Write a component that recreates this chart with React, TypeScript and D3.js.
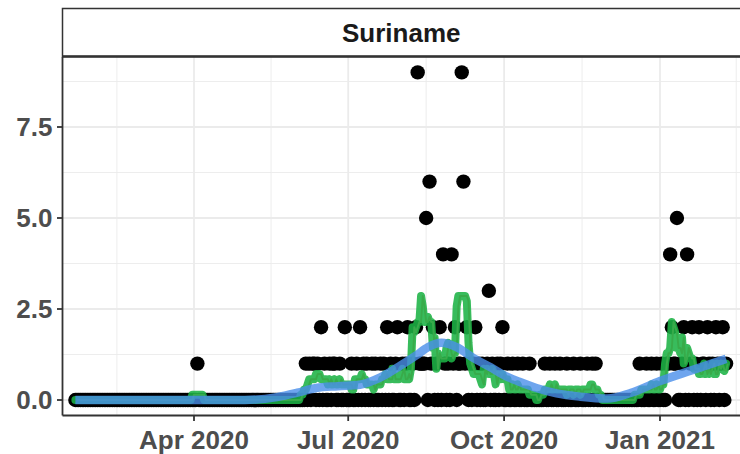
import React from 'react';
import * as d3 from 'd3';

// ---- data (daily new cases, Suriname) ----
const START_DATE = '2020-01-22';
const cases_2020_01 = [0, 0, 0, 0, 0, 0, 0, 0, 0, 0];
const cases_2020_02 = [0, 0, 0, 0, 0, 0, 0, 0, 0, 0, 0, 0, 0, 0, 0, 0, 0, 0, 0, 0, 0, 0, 0, 0, 0, 0, 0, 0, 0];
const cases_2020_03 = [0, 0, 0, 0, 0, 0, 0, 0, 0, 0, 0, 0, 0, 0, 0, 0, 0, 0, 0, 0, 0, 0, 0, 0, 0, 0, 0, 0, 0, 0, 0];
const cases_2020_04 = [0, 0, 1, 0, 0, 0, 0, 0, 0, 0, 0, 0, 0, 0, 0, 0, 0, 0, 0, 0, 0, 0, 0, 0, 0, 0, 0, 0, 0, 0];
const cases_2020_05 = [0, 0, 0, 0, 0, 0, 0, 0, 0, 0, 0, 0, 0, 0, 0, 0, 0, 0, 0, 0, 0, 0, 0, 0, 0, 0, 0, 0, 0, 0, 0];
const cases_2020_06 = [0, 0, 0, 0, 0, 1, 0, 1, 0, 1, 1, 0, 1, 0, 2, 0, 1, 0, 0, 1, 0, 1, 1, 0, 0, 1, 0, 0, 2, 0];
const cases_2020_07 = [0, 0, 1, 0, 0, 1, 0, 2, 0, 1, 0, 1, 0, 0, 1, 0, 1, 0, 0, 1, 0, 1, 0, 2, 0, 1, 0, 0, 1, 2, 0];
const cases_2020_08 = [0, 1, 0, 1, 2, 0, 0, 1, 0, 2, 9, 1, 1, 1, 1, 5, 0, 6, 1, 2, 0, 1, 0, 2, 0, 4, 1, 0, 1, 0, 4];
const cases_2020_09 = [1, 2, 0, 1, 1, 9, 6, 1, 2, 0, 1, 0, 1, 2, 0, 1, 0, 1, 0, 0, 1, 3, 0, 1, 0, 0, 1, 0, 1, 2];
const cases_2020_10 = [0, 0, 1, 0, 0, 1, 0, 0, 1, 0, 0, 1, 0, 0, 0, 1, 0, 0, 0, 0, 0, 0, 0, 0, 1, 0, 0, 1, 0, 0, 1];
const cases_2020_11 = [0, 0, 1, 0, 0, 0, 1, 0, 0, 0, 1, 0, 0, 0, 1, 0, 0, 0, 1, 0, 0, 1, 0, 1, 0, 0, 0, 0, 0, 0];
const cases_2020_12 = [0, 0, 0, 0, 0, 0, 0, 0, 0, 0, 0, 0, 0, 0, 0, 0, 0, 0, 0, 1, 0, 0, 0, 1, 0, 0, 1, 0, 0, 1, 0];
const cases_2021_01 = [0, 1, 0, 0, 1, 1, 4, 2, 1, 1, 5, 0, 0, 1, 2, 0, 4, 0, 1, 2, 0, 1, 0, 2, 0, 1, 1, 0, 2, 1, 0];
const cases_2021_02 = [1, 0, 2, 1, 0, 1, 2, 0, 1];

// smoothed trend
const smoothDates = ['2020-01-22', '2020-04-01', '2020-05-01', '2020-05-20', '2020-06-01', '2020-06-12', '2020-06-25', '2020-07-08', '2020-07-20', '2020-08-01', '2020-08-10', '2020-08-17', '2020-08-25', '2020-09-03', '2020-09-13', '2020-09-23', '2020-10-01', '2020-10-10', '2020-10-20', '2020-11-01', '2020-11-15', '2020-12-01', '2020-12-15', '2021-01-01', '2021-01-20', '2021-02-09'];
const smoothValues = [0, 0, 0.0, 0.08, 0.2, 0.33, 0.38, 0.42, 0.62, 0.95, 1.22, 1.45, 1.57, 1.45, 1.15, 0.9, 0.68, 0.5, 0.33, 0.18, 0.09, 0.04, 0.2, 0.52, 0.82, 1.13];

const stripTitle = 'Suriname';
const xTickDates = ['2020-04-01', '2020-07-01', '2020-10-01', '2021-01-01'];
const xTickLabels = ['Apr 2020', 'Jul 2020', 'Oct 2020', 'Jan 2021'];
const xBreakDatesExtended = ['2020-01-01', '2020-04-01', '2020-07-01', '2020-10-01', '2021-01-01', '2021-04-01'];
const yTicks = [0, 2.5, 5, 7.5];
const yTickLabels = ['0.0', '2.5', '5.0', '7.5'];

const W = 740;
const H = 454;
const panel = { left: 62.5, right: 742, top: 57, bottom: 415.5 };
const FONT = "'Liberation Sans', Arial, Helvetica, sans-serif";
const FS = 26;

export default function App() {
  const parse = d3.utcParse('%Y-%m-%d');
  const allCases = [
    ...cases_2020_01, ...cases_2020_02, ...cases_2020_03, ...cases_2020_04,
    ...cases_2020_05, ...cases_2020_06, ...cases_2020_07, ...cases_2020_08,
    ...cases_2020_09, ...cases_2020_10, ...cases_2020_11, ...cases_2020_12,
    ...cases_2021_01, ...cases_2021_02,
  ];
  const start = parse(START_DATE) as Date;
  const data = allCases.map((v, i) => ({ date: d3.utcDay.offset(start, i), value: v }));

  // centered 7-day rolling mean (partial windows at the ends)
  const roll = data.map((d, i) => {
    const lo = Math.max(0, i - 3);
    const hi = Math.min(data.length - 1, i + 3);
    const m = d3.mean(data.slice(lo, hi + 1), (e) => e.value) as number;
    return { date: d.date, value: m };
  });
  const rollShift = roll.map((d) => ({ date: d3.utcDay.offset(d.date, 1), value: d.value }));

  const smooth = smoothDates.map((s, i) => ({ date: parse(s) as Date, value: smoothValues[i] }));

  const x = d3.scaleUtc()
    .domain([parse('2020-04-01') as Date, parse('2021-01-01') as Date])
    .range([194, 660]);
  const y = d3.scaleLinear().domain([0, 7.5]).range([400, 127]);

  const majorX = xTickDates.map((s) => x(parse(s) as Date));
  const extX = xBreakDatesExtended.map((s) => x(parse(s) as Date));
  const minorX = extX.slice(1).map((v, i) => (v + extX[i]) / 2).filter((v) => v > panel.left && v < panel.right);
  const minorY = [1.25, 3.75, 6.25, 8.75];

  const line = d3.line<{ date: Date; value: number }>()
    .x((d) => x(d.date))
    .y((d) => y(d.value));
  const smoothLine = d3.line<{ date: Date; value: number }>()
    .x((d) => x(d.date))
    .y((d) => y(d.value))
    .curve(d3.curveMonotoneX);

  return (
    <svg width={W} height={H} style={{ position: 'absolute', left: 0, top: 0, background: '#fff' }}>
      <defs>
        <clipPath id="panelClip">
          <rect x={panel.left} y={panel.top} width={panel.right - panel.left} height={panel.bottom - panel.top} />
        </clipPath>
      </defs>
      <rect x={0} y={0} width={W} height={H} fill="#fff" />
      {/* grid */}
      <g clipPath="url(#panelClip)">
        {minorY.map((v) => (
          <line key={'my' + v} x1={panel.left} x2={panel.right} y1={y(v)} y2={y(v)} stroke="#EBEBEB" strokeWidth={0.9} />
        ))}
        {minorX.map((v, i) => (
          <line key={'mx' + i} x1={v} x2={v} y1={panel.top} y2={panel.bottom} stroke="#EBEBEB" strokeWidth={0.9} />
        ))}
        {yTicks.map((v) => (
          <line key={'gy' + v} x1={panel.left} x2={panel.right} y1={y(v)} y2={y(v)} stroke="#EBEBEB" strokeWidth={1.8} />
        ))}
        {majorX.map((v, i) => (
          <line key={'gx' + i} x1={v} x2={v} y1={panel.top} y2={panel.bottom} stroke="#EBEBEB" strokeWidth={1.8} />
        ))}
        {/* points */}
        {data.map((d, i) => (
          <circle key={'p' + i} cx={x(d.date)} cy={y(d.value)} r={7.2} fill="#000" />
        ))}
        {/* rolling means */}
        <path d={line(rollShift) as string} fill="none" stroke="#F8766D" strokeWidth={2} strokeLinejoin="round" />
        <path d={line(roll) as string} fill="none" stroke="#1DB345" strokeOpacity={0.88} strokeWidth={8} strokeLinejoin="round" strokeLinecap="round" />
        {/* smooth */}
        <path d={smoothLine(smooth) as string} fill="none" stroke="#4A8EEA" strokeOpacity={0.8} strokeWidth={8.5} strokeLinecap="butt" />
      </g>
      {/* axes */}
      <line x1={panel.left} x2={panel.left} y1={panel.top} y2={panel.bottom} stroke="#333" strokeWidth={1.8} />
      <line x1={panel.left} x2={W} y1={panel.bottom} y2={panel.bottom} stroke="#333" strokeWidth={1.8} />
      {yTicks.map((v, i) => (
        <g key={'yt' + v}>
          <line x1={panel.left - 5.5} x2={panel.left} y1={y(v)} y2={y(v)} stroke="#333" strokeWidth={1.8} />
          <text x={panel.left - 10} y={y(v)} dy="0.36em" textAnchor="end" fontFamily={FONT} fontWeight="bold" fontSize={FS} fill="#4D4D4D">
            {yTickLabels[i]}
          </text>
        </g>
      ))}
      {majorX.map((v, i) => (
        <g key={'xt' + i}>
          <line x1={v} x2={v} y1={panel.bottom} y2={panel.bottom + 5.5} stroke="#333" strokeWidth={1.8} />
          <text x={v} y={449} textAnchor="middle" fontFamily={FONT} fontWeight="bold" fontSize={FS} fill="#4D4D4D">
            {xTickLabels[i]}
          </text>
        </g>
      ))}
      {/* strip */}
      <rect x={panel.left} y={8.5} width={W + 10 - panel.left} height={48} fill="#fff" stroke="#333" strokeWidth={1.5} />
      <line x1={panel.left} x2={W} y1={56.5} y2={56.5} stroke="#333" strokeWidth={2.5} />
      <text x={(panel.left + W) / 2} y={33} dy="0.36em" textAnchor="middle" fontFamily={FONT} fontWeight="bold" fontSize={FS} fill="#1A1A1A">
        {stripTitle}
      </text>
    </svg>
  );
}
